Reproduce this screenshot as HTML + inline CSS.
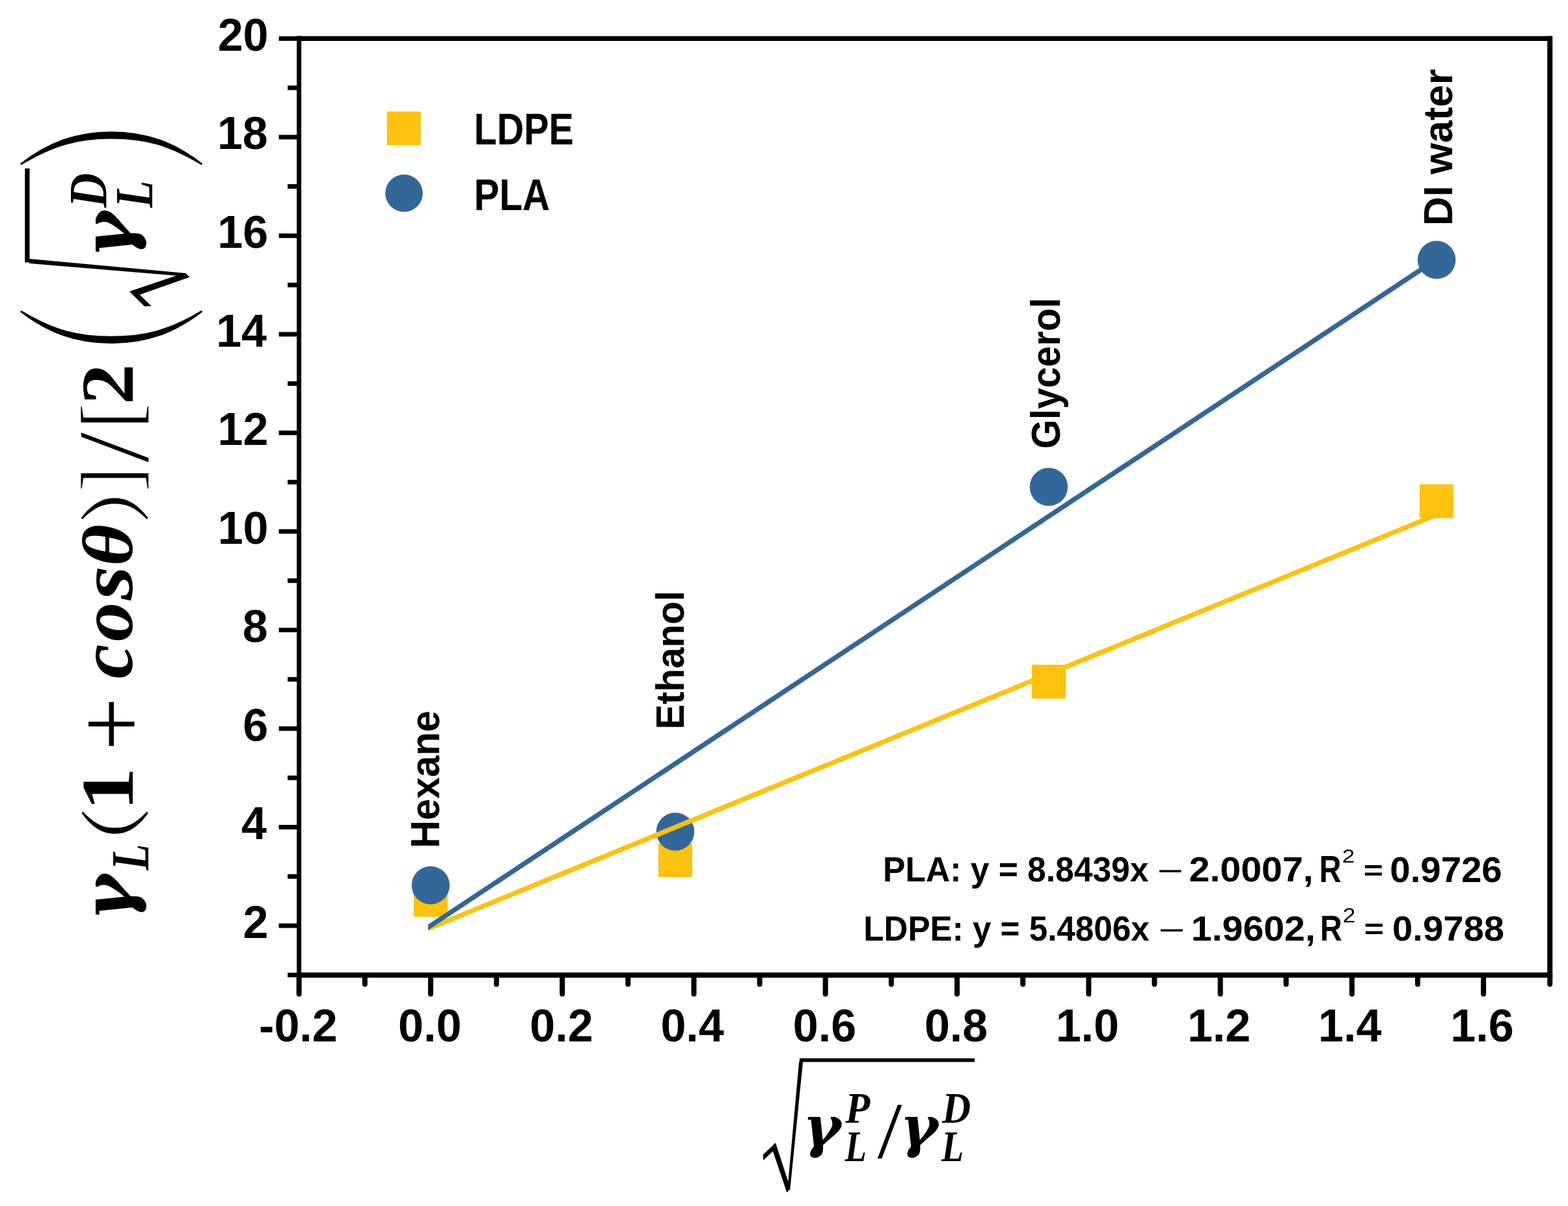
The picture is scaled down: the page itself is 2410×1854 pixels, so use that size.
<!DOCTYPE html>
<html><head><meta charset="utf-8"><title>Owens-Wendt plot</title>
<style>
html,body{margin:0;padding:0;background:#fff;}
#wrap{position:relative;width:2410px;height:1854px;overflow:hidden;}
svg{display:block;font-kerning:none;}
text{font-kerning:none;}
</style></head>
<body>
<div id="wrap">
<svg width="2410" height="1854" viewBox="0 0 2410 1854">
<rect width="2410" height="1854" fill="#fff"/>
<g stroke="#000" stroke-width="7.5" fill="none">
<line x1="459.6" y1="55.5" x2="459.6" y2="1502.7" stroke-width="7"/>
<line x1="455.9" y1="1498.9" x2="2385.9" y2="1498.9" stroke-width="8"/>
<line x1="455.9" y1="59.3" x2="2385.9" y2="59.3"/>
<line x1="2382.2" y1="55.5" x2="2382.2" y2="1502.7" stroke-width="8"/>
<line x1="442.1" y1="1498.9" x2="459.6" y2="1498.9" stroke-width="7"/>
<line x1="428.6" y1="1423.1" x2="459.6" y2="1423.1" stroke-width="7"/>
<line x1="442.1" y1="1347.4" x2="459.6" y2="1347.4" stroke-width="7"/>
<line x1="428.6" y1="1271.6" x2="459.6" y2="1271.6" stroke-width="7"/>
<line x1="442.1" y1="1195.8" x2="459.6" y2="1195.8" stroke-width="7"/>
<line x1="428.6" y1="1120.1" x2="459.6" y2="1120.1" stroke-width="7"/>
<line x1="442.1" y1="1044.3" x2="459.6" y2="1044.3" stroke-width="7"/>
<line x1="428.6" y1="968.5" x2="459.6" y2="968.5" stroke-width="7"/>
<line x1="442.1" y1="892.7" x2="459.6" y2="892.7" stroke-width="7"/>
<line x1="428.6" y1="817.0" x2="459.6" y2="817.0" stroke-width="7"/>
<line x1="442.1" y1="741.2" x2="459.6" y2="741.2" stroke-width="7"/>
<line x1="428.6" y1="665.4" x2="459.6" y2="665.4" stroke-width="7"/>
<line x1="442.1" y1="589.7" x2="459.6" y2="589.7" stroke-width="7"/>
<line x1="428.6" y1="513.9" x2="459.6" y2="513.9" stroke-width="7"/>
<line x1="442.1" y1="438.1" x2="459.6" y2="438.1" stroke-width="7"/>
<line x1="428.6" y1="362.4" x2="459.6" y2="362.4" stroke-width="7"/>
<line x1="442.1" y1="286.6" x2="459.6" y2="286.6" stroke-width="7"/>
<line x1="428.6" y1="210.8" x2="459.6" y2="210.8" stroke-width="7"/>
<line x1="442.1" y1="135.0" x2="459.6" y2="135.0" stroke-width="7"/>
<line x1="428.6" y1="59.3" x2="459.6" y2="59.3" stroke-width="7"/>
<line x1="459.6" y1="1498.9" x2="459.6" y2="1527.9" stroke-width="8" stroke-linecap="round"/>
<line x1="560.8" y1="1498.9" x2="560.8" y2="1512.9" stroke-width="8" stroke-linecap="round"/>
<line x1="661.9" y1="1498.9" x2="661.9" y2="1527.9" stroke-width="8" stroke-linecap="round"/>
<line x1="763.0" y1="1498.9" x2="763.0" y2="1512.9" stroke-width="8" stroke-linecap="round"/>
<line x1="864.2" y1="1498.9" x2="864.2" y2="1527.9" stroke-width="8" stroke-linecap="round"/>
<line x1="965.3" y1="1498.9" x2="965.3" y2="1512.9" stroke-width="8" stroke-linecap="round"/>
<line x1="1066.5" y1="1498.9" x2="1066.5" y2="1527.9" stroke-width="8" stroke-linecap="round"/>
<line x1="1167.6" y1="1498.9" x2="1167.6" y2="1512.9" stroke-width="8" stroke-linecap="round"/>
<line x1="1268.7" y1="1498.9" x2="1268.7" y2="1527.9" stroke-width="8" stroke-linecap="round"/>
<line x1="1369.9" y1="1498.9" x2="1369.9" y2="1512.9" stroke-width="8" stroke-linecap="round"/>
<line x1="1471.0" y1="1498.9" x2="1471.0" y2="1527.9" stroke-width="8" stroke-linecap="round"/>
<line x1="1572.2" y1="1498.9" x2="1572.2" y2="1512.9" stroke-width="8" stroke-linecap="round"/>
<line x1="1673.3" y1="1498.9" x2="1673.3" y2="1527.9" stroke-width="8" stroke-linecap="round"/>
<line x1="1774.4" y1="1498.9" x2="1774.4" y2="1512.9" stroke-width="8" stroke-linecap="round"/>
<line x1="1875.6" y1="1498.9" x2="1875.6" y2="1527.9" stroke-width="8" stroke-linecap="round"/>
<line x1="1976.7" y1="1498.9" x2="1976.7" y2="1512.9" stroke-width="8" stroke-linecap="round"/>
<line x1="2077.9" y1="1498.9" x2="2077.9" y2="1527.9" stroke-width="8" stroke-linecap="round"/>
<line x1="2179.0" y1="1498.9" x2="2179.0" y2="1512.9" stroke-width="8" stroke-linecap="round"/>
<line x1="2280.1" y1="1498.9" x2="2280.1" y2="1527.9" stroke-width="8" stroke-linecap="round"/>
<line x1="2382.2" y1="1498.9" x2="2382.2" y2="1512.9" stroke-width="8" stroke-linecap="round"/>
</g>
<g font-size="70.0" font-family='"Liberation Sans", sans-serif' font-weight="bold" fill="#000">
<text x="412.4" y="1441.7" text-anchor="end">2</text>
<text x="410.0" y="1290.2" text-anchor="end">4</text>
<text x="412.1" y="1138.7" text-anchor="end">6</text>
<text x="411.8" y="987.1" text-anchor="end">8</text>
<text x="412.5" y="835.6" text-anchor="end">10</text>
<text x="412.4" y="684.0" text-anchor="end">12</text>
<text x="410.0" y="532.5" text-anchor="end">14</text>
<text x="412.1" y="381.0" text-anchor="end">16</text>
<text x="411.8" y="229.4" text-anchor="end">18</text>
<text x="412.5" y="77.9" text-anchor="end">20</text>
<text x="398.1" y="1600.6">-0.2</text>
<text x="612.1" y="1600.6">0.0</text>
<text x="814.3" y="1600.6">0.2</text>
<text x="1015.4" y="1600.6">0.4</text>
<text x="1218.8" y="1600.6">0.6</text>
<text x="1420.9" y="1600.6">0.8</text>
<text x="1622.7" y="1600.6">1.0</text>
<text x="1824.9" y="1600.6">1.2</text>
<text x="2026.0" y="1600.6">1.4</text>
<text x="2229.3" y="1600.6">1.6</text>
</g>
<rect x="635.9" y="1357.3" width="52" height="52" fill="#fec20f"/>
<rect x="1011.9" y="1296.4" width="52" height="52" fill="#fec20f"/>
<rect x="1586.0" y="1021.9" width="52" height="52" fill="#fec20f"/>
<rect x="2181.9" y="744.5" width="52" height="52" fill="#fec20f"/>
<circle cx="661.9" cy="1361.0" r="29.25" fill="#336799"/>
<circle cx="1037.9" cy="1278.5" r="29.25" fill="#336799"/>
<circle cx="1611.9" cy="748.5" r="29.25" fill="#336799"/>
<circle cx="2208.1" cy="399.6" r="29.25" fill="#336799"/>
<clipPath id="fc"><rect x="657.9" y="0" width="1800" height="1854"/></clipPath>
<line clip-path="url(#fc)" x1="649.8" y1="1431.1" x2="2208.0" y2="791.3" stroke="#fec20f" stroke-width="7.4"/>
<line clip-path="url(#fc)" x1="649.8" y1="1431.1" x2="2208.0" y2="398.7" stroke="#336799" stroke-width="7.4"/>
<rect x="594.7" y="171.4" width="52" height="51.6" fill="#fec20f"/>
<circle cx="621" cy="297" r="28.8" fill="#336799"/>
<text transform="translate(728.56 221.50) scale(0.5748 0.6919)" font-size="100" font-family='"Liberation Sans", sans-serif' font-weight="bold">LDPE</text>
<text transform="translate(728.50 322.60) scale(0.5837 0.6919)" font-size="100" font-family='"Liberation Sans", sans-serif' font-weight="bold">PLA</text>
<text transform="rotate(-90) translate(-1303.98 675.00) scale(0.5951 0.6236)" font-size="100" font-family='"Liberation Sans", sans-serif' font-weight="bold">Hexane</text>
<text transform="rotate(-90) translate(-1121.59 1051.00) scale(0.5821 0.6163)" font-size="100" font-family='"Liberation Sans", sans-serif' font-weight="bold">Ethanol</text>
<text transform="rotate(-90) translate(-690.08 1628.90) scale(0.5810 0.6308)" font-size="100" font-family='"Liberation Sans", sans-serif' font-weight="bold">Glycerol</text>
<text transform="rotate(-90) translate(-347.15 2232.00) scale(0.6197 0.6308)" font-size="100" font-family='"Liberation Sans", sans-serif' font-weight="bold">DI water</text>
<text transform="translate(1357.05 1354.95) scale(0.5157 0.5421)" font-size="100" font-family='"Liberation Sans", sans-serif' font-weight="bold">PLA: y = 8.8439x</text>
<text transform="translate(1827.51 1355.08) scale(0.5734 0.5439)" font-size="100" font-family='"Liberation Sans", sans-serif' font-weight="bold">2.0007,</text>
<text transform="translate(2027.87 1356.40) scale(0.4679 0.5712)" font-size="100" font-family='"Liberation Sans", sans-serif' font-weight="bold">R</text>
<text transform="translate(2095.66 1353.05) scale(0.5165 0.4260)" font-size="100" font-family='"Liberation Sans", sans-serif' font-weight="bold">=</text>
<text transform="translate(2136.27 1356.35) scale(0.5639 0.5621)" font-size="100" font-family='"Liberation Sans", sans-serif' font-weight="bold">0.9726</text>
<text transform="translate(1779.11 1354.86) scale(0.6875 0.4769)" font-size="100" font-family='"Liberation Sans", sans-serif' font-weight="normal">−</text>
<text transform="translate(2062.63 1326.00) scale(0.3512 0.3008)" font-size="100" font-family='"Liberation Sans", sans-serif' font-weight="normal">2</text>
<text transform="translate(1327.28 1445.84) scale(0.5117 0.5377)" font-size="100" font-family='"Liberation Sans", sans-serif' font-weight="bold">LDPE: y = 5.4806x</text>
<text transform="translate(1830.79 1445.71) scale(0.5726 0.5357)" font-size="100" font-family='"Liberation Sans", sans-serif' font-weight="bold">1.9602,</text>
<text transform="translate(2029.07 1446.40) scale(0.4679 0.5538)" font-size="100" font-family='"Liberation Sans", sans-serif' font-weight="bold">R</text>
<text transform="translate(2096.85 1443.22) scale(0.5185 0.4234)" font-size="100" font-family='"Liberation Sans", sans-serif' font-weight="bold">=</text>
<text transform="translate(2140.08 1446.37) scale(0.5625 0.5452)" font-size="100" font-family='"Liberation Sans", sans-serif' font-weight="bold">0.9788</text>
<text transform="translate(1780.85 1445.66) scale(0.6998 0.4769)" font-size="100" font-family='"Liberation Sans", sans-serif' font-weight="normal">−</text>
<text transform="translate(2063.82 1417.50) scale(0.3534 0.3194)" font-size="100" font-family='"Liberation Sans", sans-serif' font-weight="normal">2</text>
<text transform="translate(1234.06 1762.26) scale(0.8875 0.8680)" font-size="100" font-family='"DejaVu Serif", serif' font-weight="bold" font-style="italic">γ</text>
<text transform="translate(1299.33 1726.40) scale(0.6217 0.6720)" font-size="100" font-family='"Liberation Serif", serif' font-weight="bold" font-style="italic">P</text>
<text transform="translate(1298.80 1785.00) scale(0.5425 0.6720)" font-size="100" font-family='"Liberation Serif", serif' font-weight="bold" font-style="italic">L</text>
<text transform="translate(1348.70 1780.10) scale(1.3533 1.2318)" font-size="100" font-family='"Liberation Serif", serif' font-weight="normal">/</text>
<text transform="translate(1383.26 1762.26) scale(0.8875 0.8680)" font-size="100" font-family='"DejaVu Serif", serif' font-weight="bold" font-style="italic">γ</text>
<text transform="translate(1448.05 1726.27) scale(0.6104 0.6700)" font-size="100" font-family='"Liberation Serif", serif' font-weight="bold" font-style="italic">D</text>
<text transform="translate(1447.11 1785.00) scale(0.5600 0.6720)" font-size="100" font-family='"Liberation Serif", serif' font-weight="bold" font-style="italic">L</text>
<text transform="rotate(-90) translate(-1415.70 203.16) scale(1.0830 1.0590)" font-size="100" font-family='"DejaVu Serif", serif' font-weight="bold" font-style="italic">γ</text>
<text transform="rotate(-90) translate(-1338.11 227.50) scale(0.6646 0.8186)" font-size="100" font-family='"Liberation Serif", serif' font-weight="bold" font-style="italic">L</text>
<text transform="rotate(-90) translate(-1295.32 206.10) scale(1.4534 0.9817)" font-size="100" font-family='"Noto Serif CJK SC", serif' font-weight="300">(</text>
<text transform="rotate(-90) translate(-1246.42 203.90) scale(1.3391 1.1512)" font-size="100" font-family='"Liberation Serif", serif' font-weight="bold">1</text>
<text transform="rotate(-90) translate(-1154.02 220.93) scale(1.4506 1.4963)" font-size="100" font-family='"Liberation Serif", serif' font-weight="normal">+</text>
<text transform="rotate(-90) translate(-1043.35 203.14) scale(1.1965 1.1914)" font-size="100" font-family='"Liberation Serif", serif' font-weight="bold" font-style="italic">c</text>
<text transform="rotate(-90) translate(-986.18 202.86) scale(1.2061 1.1664)" font-size="100" font-family='"Liberation Serif", serif' font-weight="bold" font-style="italic">o</text>
<text transform="rotate(-90) translate(-922.47 202.86) scale(1.3525 1.1664)" font-size="100" font-family='"Liberation Serif", serif' font-weight="bold" font-style="italic">s</text>
<text transform="rotate(-90) translate(-870.46 202.93) scale(1.2396 1.1002)" font-size="100" font-family='"Liberation Serif", serif' font-weight="bold" font-style="italic">θ</text>
<text transform="rotate(-90) translate(-802.60 205.71) scale(1.3941 0.9904)" font-size="100" font-family='"Noto Serif CJK SC", serif' font-weight="300">)</text>
<text transform="rotate(-90) translate(-755.64 212.41) scale(1.1183 1.2771)" font-size="100" font-family='"Liberation Serif", serif' font-weight="normal" stroke="#fff" stroke-width="1.6" vector-effect="non-scaling-stroke">]</text>
<text transform="rotate(-90) translate(-711.80 226.58) scale(1.7277 1.5592)" font-size="100" font-family='"Liberation Serif", serif' font-weight="normal" stroke="#fff" stroke-width="1.6" vector-effect="non-scaling-stroke">/</text>
<text transform="rotate(-90) translate(-659.03 212.41) scale(1.1767 1.2771)" font-size="100" font-family='"Liberation Serif", serif' font-weight="normal" stroke="#fff" stroke-width="1.6" vector-effect="non-scaling-stroke">[</text>
<text transform="rotate(-90) translate(-621.97 204.00) scale(1.2553 1.1373)" font-size="100" font-family='"Liberation Serif", serif' font-weight="bold">2</text>
<text transform="rotate(-90) translate(-396.66 203.34) scale(1.0898 1.0603)" font-size="100" font-family='"DejaVu Serif", serif' font-weight="bold" font-style="italic">γ</text>
<text transform="rotate(-90) translate(-319.30 234.00) scale(0.6803 0.8247)" font-size="100" font-family='"Liberation Serif", serif' font-weight="bold" font-style="italic">L</text>
<text transform="rotate(-90) translate(-319.26 163.34) scale(0.7365 0.8238)" font-size="100" font-family='"Liberation Serif", serif' font-weight="bold" font-style="italic">D</text>
<text transform="rotate(-90) translate(-551.36 254.06) scale(2.3178 2.7589)" font-size="100" font-family='"Noto Serif CJK SC", serif' font-weight="300" stroke="#fff" stroke-width="3.6" vector-effect="non-scaling-stroke">(</text>
<text transform="rotate(-90) translate(-262.25 254.06) scale(2.3390 2.7589)" font-size="100" font-family='"Noto Serif CJK SC", serif' font-weight="300" stroke="#fff" stroke-width="3.6" vector-effect="non-scaling-stroke">)</text>
<text transform="matrix(-1.38653 -1.39436 2.15410 -0.10401 336.74 497.17)" font-size="100" font-family='"Noto Serif CJK SC", serif' font-weight="normal">√</text>
<rect x="38.3" y="258.9" width="7.2" height="144.5" fill="#000"/>
<text transform="matrix(1.15238 -1.09478 0.07272 1.76986 1150.85 1868.31)" font-size="100" font-family='"Noto Serif CJK SC", serif' font-weight="normal">√</text>
<rect x="1229" y="1627" width="269" height="5.6" fill="#000"/>
</svg>

</div>
</body></html>
